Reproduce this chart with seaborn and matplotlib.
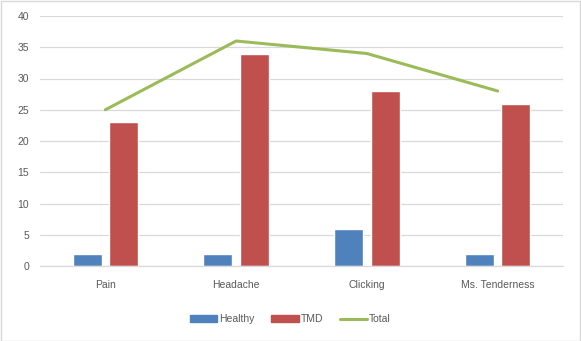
import matplotlib
matplotlib.use("Agg")
import matplotlib.pyplot as plt
import seaborn as sns
import pandas as pd
from matplotlib.patches import Patch, Rectangle
from matplotlib.lines import Line2D

categories = ["Pain", "Headache", "Clicking", "Ms. Tenderness"]
healthy = [2, 2, 6, 2]
tmd = [23, 34, 28, 26]
total = [25, 36, 34, 28]

c_healthy = "#4F81BD"
c_tmd = "#C0504D"
c_total = "#9BBB59"
txt = "#595959"

sns.set_theme(style="white")
plt.rcParams['font.family'] = ['Liberation Sans', 'DejaVu Sans']

df = pd.DataFrame({
    "category": categories * 2,
    "value": healthy + tmd,
    "series": ["Healthy"] * 4 + ["TMD"] * 4,
})
dfl = pd.DataFrame({"category": categories, "value": total})

fig = plt.figure(figsize=(5.81, 3.41), dpi=100)
ax = fig.add_axes([40/581, 1-266/341, 523/581, 250/341])

sns.barplot(data=df, x="category", y="value", hue="series", order=categories,
            hue_order=["Healthy", "TMD"], palette=[c_healthy, c_tmd],
            width=0.56, gap=0.21, saturation=1, ax=ax, legend=False, errorbar=None)
sns.lineplot(data=dfl, x="category", y="value", color=c_total, linewidth=2.2,
             sort=False, ax=ax, legend=False)

ax.set_xlim(-0.5, 3.5)
ax.set_ylim(0, 40)
ax.set_yticks(range(0, 41, 5))
ax.yaxis.grid(True, color="#D9D9D9", linewidth=0.9)
ax.set_axisbelow(True)
for s in ["top", "right", "left"]:
    ax.spines[s].set_visible(False)
ax.spines["bottom"].set_color("#D9D9D9")
ax.spines["bottom"].set_linewidth(0.9)
ax.tick_params(axis="both", length=0, labelsize=7.5, colors=txt)
ax.tick_params(axis="x", pad=10)
ax.tick_params(axis="y", pad=8)
ax.set_xlabel("")
ax.set_ylabel("")

handles = [Patch(color=c_healthy, label="Healthy"), Patch(color=c_tmd, label="TMD"),
           Line2D([0], [0], color=c_total, linewidth=2.2, label="Total")]
fig.legend(handles=handles, loc="center", bbox_to_anchor=(0.5, 1-319/341), ncol=3,
           frameon=False, fontsize=7.5, handlelength=2.6, handleheight=0.6,
           columnspacing=1.6, handletextpad=0.2, labelcolor=txt)

fig.patches.append(Rectangle((0.5/581, 0.5/341), 1-1.5/581, 1-1.5/341, transform=fig.transFigure,
                             fill=False, edgecolor="#D9D9D9", linewidth=1))

fig.savefig("out.png", dpi=100)
